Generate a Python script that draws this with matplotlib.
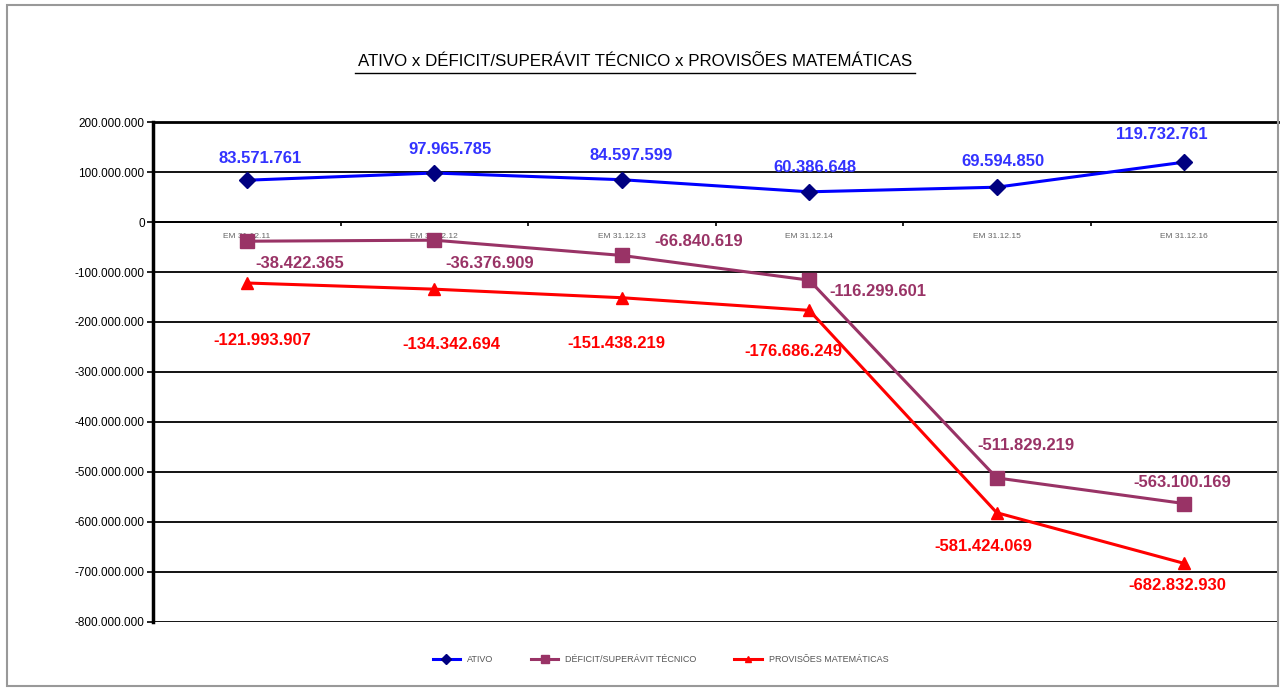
import numpy as np
import matplotlib.pyplot as plt
from matplotlib.patches import Rectangle
from matplotlib.lines import Line2D
from matplotlib.ticker import FuncFormatter, FixedLocator

plt.rcParams['font.family'] = ['Liberation Sans Narrow', 'Liberation Sans', 'DejaVu Sans']

categorias = ['EM 31.12.11', 'EM 31.12.12', 'EM 31.12.13', 'EM 31.12.14', 'EM 31.12.15', 'EM 31.12.16']
ativo = [83571761, 97965785, 84597599, 60386648, 69594850, 119732761]
deficit = [-38422365, -36376909, -66840619, -116299601, -511829219, -563100169]
provisoes = [-121993907, -134342694, -151438219, -176686249, -581424069, -682832930]

# label offsets in pixels (dx, dy), per point
off_ativo = [(13, 22), (16, 24), (9, 24), (6, 24), (6, 26), (-22, 28)]
off_deficit = [(53, -22), (55, -23), (77, 14), (69, -11), (29, 32), (-2, 21)]
off_prov = [(16, -58), (17, -55), (-5, -46), (-16, -41), (-13, -34), (-7, -22)]


def fmt(v):
    return '{:,.0f}'.format(v).replace(',', '.')


fig = plt.figure(figsize=(12.85, 6.88), dpi=100)
ax = fig.add_axes([153 / 1285, 66 / 688, 1125 / 1285, 500 / 688])

x = np.arange(len(categorias))
ax.plot(x, ativo, color='#0000FF', lw=2.2, marker='D', ms=8,
        mfc='#000080', mec='#000080', label='ATIVO', zorder=4)
ax.plot(x, deficit, color='#993366', lw=2.2, marker='s', ms=10,
        mfc='#993366', mec='#993366', label='DÉFICIT/SUPERÁVIT TÉCNICO', zorder=4)
ax.plot(x, provisoes, color='#FF0000', lw=2.2, marker='^', ms=8,
        mfc='#FF0000', mec='#FF0000', label='PROVISÕES MATEMÁTICAS', zorder=4)

k = 0.72  # px -> points at dpi 100
for i in range(len(x)):
    ax.annotate(fmt(ativo[i]), (x[i], ativo[i]), xytext=(off_ativo[i][0] * k, off_ativo[i][1] * k),
                textcoords='offset points', ha='center', va='center', color='#3333FF',
                fontsize=12, fontweight='bold')
    ax.annotate(fmt(deficit[i]), (x[i], deficit[i]), xytext=(off_deficit[i][0] * k, off_deficit[i][1] * k),
                textcoords='offset points', ha='center', va='center', color='#993366',
                fontsize=12, fontweight='bold')
    ax.annotate(fmt(provisoes[i]), (x[i], provisoes[i]), xytext=(off_prov[i][0] * k, off_prov[i][1] * k),
                textcoords='offset points', ha='center', va='center', color='#FF0000',
                fontsize=12, fontweight='bold')

ax.set_xlim(-0.5, len(categorias) - 0.5)
ax.set_ylim(-800000000, 200000000)
ax.set_yticks(np.arange(-800000000, 200000001, 100000000))
ax.yaxis.set_major_formatter(FuncFormatter(lambda v, p: fmt(v)))
ax.tick_params(axis='y', labelsize=8.5, length=4, width=1.2, pad=2)
ax.grid(axis='y', color='black', lw=1.3)
ax.set_axisbelow(True)

# category axis crosses at zero
ax.spines['bottom'].set_position(('data', 0))
ax.spines['bottom'].set_linewidth(1.3)
ax.spines['left'].set_linewidth(2.5)
ax.spines['right'].set_visible(False)
ax.spines['top'].set_linewidth(2)
ax.xaxis.set_major_locator(FixedLocator(np.arange(0.5, len(categorias) - 0.5, 1)))
ax.xaxis.set_minor_locator(FixedLocator(x))
ax.set_xticklabels([])
ax.set_xticklabels(categorias, minor=True)
ax.tick_params(axis='x', which='major', length=3, width=1.2, direction='out')
ax.tick_params(axis='x', which='minor', length=0, labelsize=6, labelcolor='#666666', pad=8)

fig.text(0.494, 1 - 62 / 688, 'ATIVO x DÉFICIT/SUPERÁVIT TÉCNICO x PROVISÕES MATEMÁTICAS',
         ha='center', va='center', fontsize=12.2)
fig.add_artist(Line2D([355 / 1285, 915 / 1285], [1 - 73 / 688, 1 - 73 / 688], color='black', lw=1))

leg = fig.legend(loc='center', bbox_to_anchor=(0.514, 1 - 660 / 688), ncol=3, frameon=False,
                 fontsize=6.5, columnspacing=4.2, handlelength=3, markerscale=0.6)
for t in leg.get_texts():
    t.set_color('#555555')

fig.add_artist(Rectangle((7 / 1285, 2 / 688), 1271 / 1285, 681 / 688, transform=fig.transFigure,
                         fill=False, edgecolor='#999999', lw=1.5))

fig.savefig('out.png', dpi=100)
